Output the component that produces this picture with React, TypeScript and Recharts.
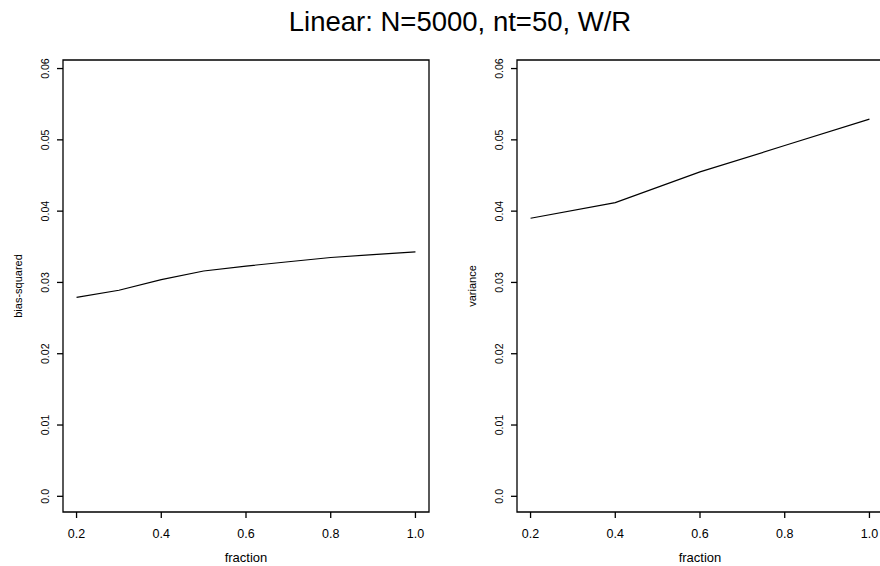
import React from 'react';
import { LineChart, Line, XAxis, YAxis, ReferenceArea, Label } from 'recharts';

const TITLE = 'Linear: N=5000, nt=50, W/R';

const fractionsLeft = [0.2, 0.3, 0.4, 0.5, 0.6, 0.7, 0.8, 0.9, 1.0];
const biasSquared = [0.0279, 0.0289, 0.0304, 0.0316, 0.0323, 0.0329, 0.0335, 0.0339, 0.0343];

const fractionsRight = [0.2, 0.4, 0.6, 0.8, 1.0];
const variance = [0.039, 0.0412, 0.0455, 0.0492, 0.0529];

const xTicks = [0.2, 0.4, 0.6, 0.8, 1.0];
const xTickLabels = ['0.2', '0.4', '0.6', '0.8', '1.0'];
const yTicks = [0, 0.01, 0.02, 0.03, 0.04, 0.05, 0.06];
const yTickLabels = ['0.0', '0.01', '0.02', '0.03', '0.04', '0.05', '0.06'];

const xDomain: [number, number] = [0.168, 1.032];
const yDomain: [number, number] = [-0.0022, 0.0612];

const leftData = fractionsLeft.map((f, i) => ({ fraction: f, value: biasSquared[i] }));
const rightData = fractionsRight.map((f, i) => ({ fraction: f, value: variance[i] }));

const FONT = '"Liberation Sans", Arial, sans-serif';
const FS = 12.5;

function Panel(props: {
  data: { fraction: number; value: number }[];
  yLabel: string;
  left: number;
  width: number;
  plotLeft: number;
  plotWidth: number;
}) {
  const { data, yLabel, left, width, plotLeft, plotWidth } = props;
  const rightMargin = width - plotLeft - plotWidth;
  return (
    <div style={{ position: 'absolute', left, top: 0 }}>
      <LineChart
        width={width}
        height={566}
        data={data}
        margin={{ top: 60, right: rightMargin, bottom: 0, left: 0 }}
      >
        <XAxis
          type="number"
          dataKey="fraction"
          domain={xDomain}
          allowDataOverflow
          ticks={xTicks}
          interval={0}
          height={54}
          axisLine={false}
          tickSize={6}
          tickLine={{ stroke: '#000', strokeWidth: 1.3 }}
          tick={(p: any) => {
            const idx = xTicks.indexOf(p.payload.value);
            return (
              <text x={p.x} y={512 + 25.5} textAnchor="middle" fontFamily={FONT} fontSize={FS} fill="#000">
                {idx >= 0 ? xTickLabels[idx] : String(p.payload.value)}
              </text>
            );
          }}
        >
          <Label
            content={(lp: any) => {
              const vb = lp.viewBox || {};
              return (
                <text x={vb.x + vb.width / 2} y={561.5} textAnchor="middle" fontFamily={FONT} fontSize={13} fill="#000">
                  fraction
                </text>
              );
            }}
          />
        </XAxis>
        <YAxis
          type="number"
          domain={yDomain}
          allowDataOverflow
          ticks={yTicks}
          interval={0}
          width={plotLeft}
          axisLine={false}
          tickSize={6}
          tickLine={{ stroke: '#000', strokeWidth: 1.3 }}
          tick={(p: any) => {
            const idx = yTicks.indexOf(p.payload.value);
            const bx = plotLeft - 13.5;
            return (
              <text
                x={bx}
                y={p.y}
                transform={`rotate(-90, ${bx}, ${p.y})`}
                textAnchor="middle"
                fontFamily={FONT}
                fontSize={10.6}
                fill="#000"
              >
                {idx >= 0 ? yTickLabels[idx] : String(p.payload.value)}
              </text>
            );
          }}
        >
          <Label
            content={() => {
              const bx = plotLeft - 41;
              const cy = (60 + 512) / 2;
              return (
                <text
                  x={bx}
                  y={cy}
                  transform={`rotate(-90, ${bx}, ${cy})`}
                  textAnchor="middle"
                  fontFamily={FONT}
                  fontSize={11}
                  fill="#000"
                >
                  {yLabel}
                </text>
              );
            }}
          />
        </YAxis>
        <ReferenceArea
          x1={xDomain[0]}
          x2={xDomain[1]}
          y1={yDomain[0]}
          y2={yDomain[1]}
          fill="none"
          fillOpacity={0}
          stroke="#000"
          strokeWidth={1.3}
          ifOverflow="visible"
        />
        <Line
          type="linear"
          dataKey="value"
          stroke="#000"
          strokeWidth={1.2}
          dot={false}
          isAnimationActive={false}
        />
      </LineChart>
    </div>
  );
}

export default function App() {
  return (
    <div
      style={{
        position: 'absolute',
        left: 0,
        top: 0,
        width: 880,
        height: 566,
        overflow: 'hidden',
        background: '#fff',
      }}
    >
      <svg width={880} height={45} style={{ position: 'absolute', left: 0, top: 0 }}>
        <text x={460} y={31} textAnchor="middle" fontFamily={FONT} fontSize={27.5} fill="#000">
          {TITLE}
        </text>
      </svg>
      <Panel data={leftData} yLabel="bias-squared" left={0} width={440} plotLeft={63} plotWidth={366} />
      <Panel data={rightData} yLabel="variance" left={440} width={460} plotLeft={77} plotWidth={366} />
    </div>
  );
}
